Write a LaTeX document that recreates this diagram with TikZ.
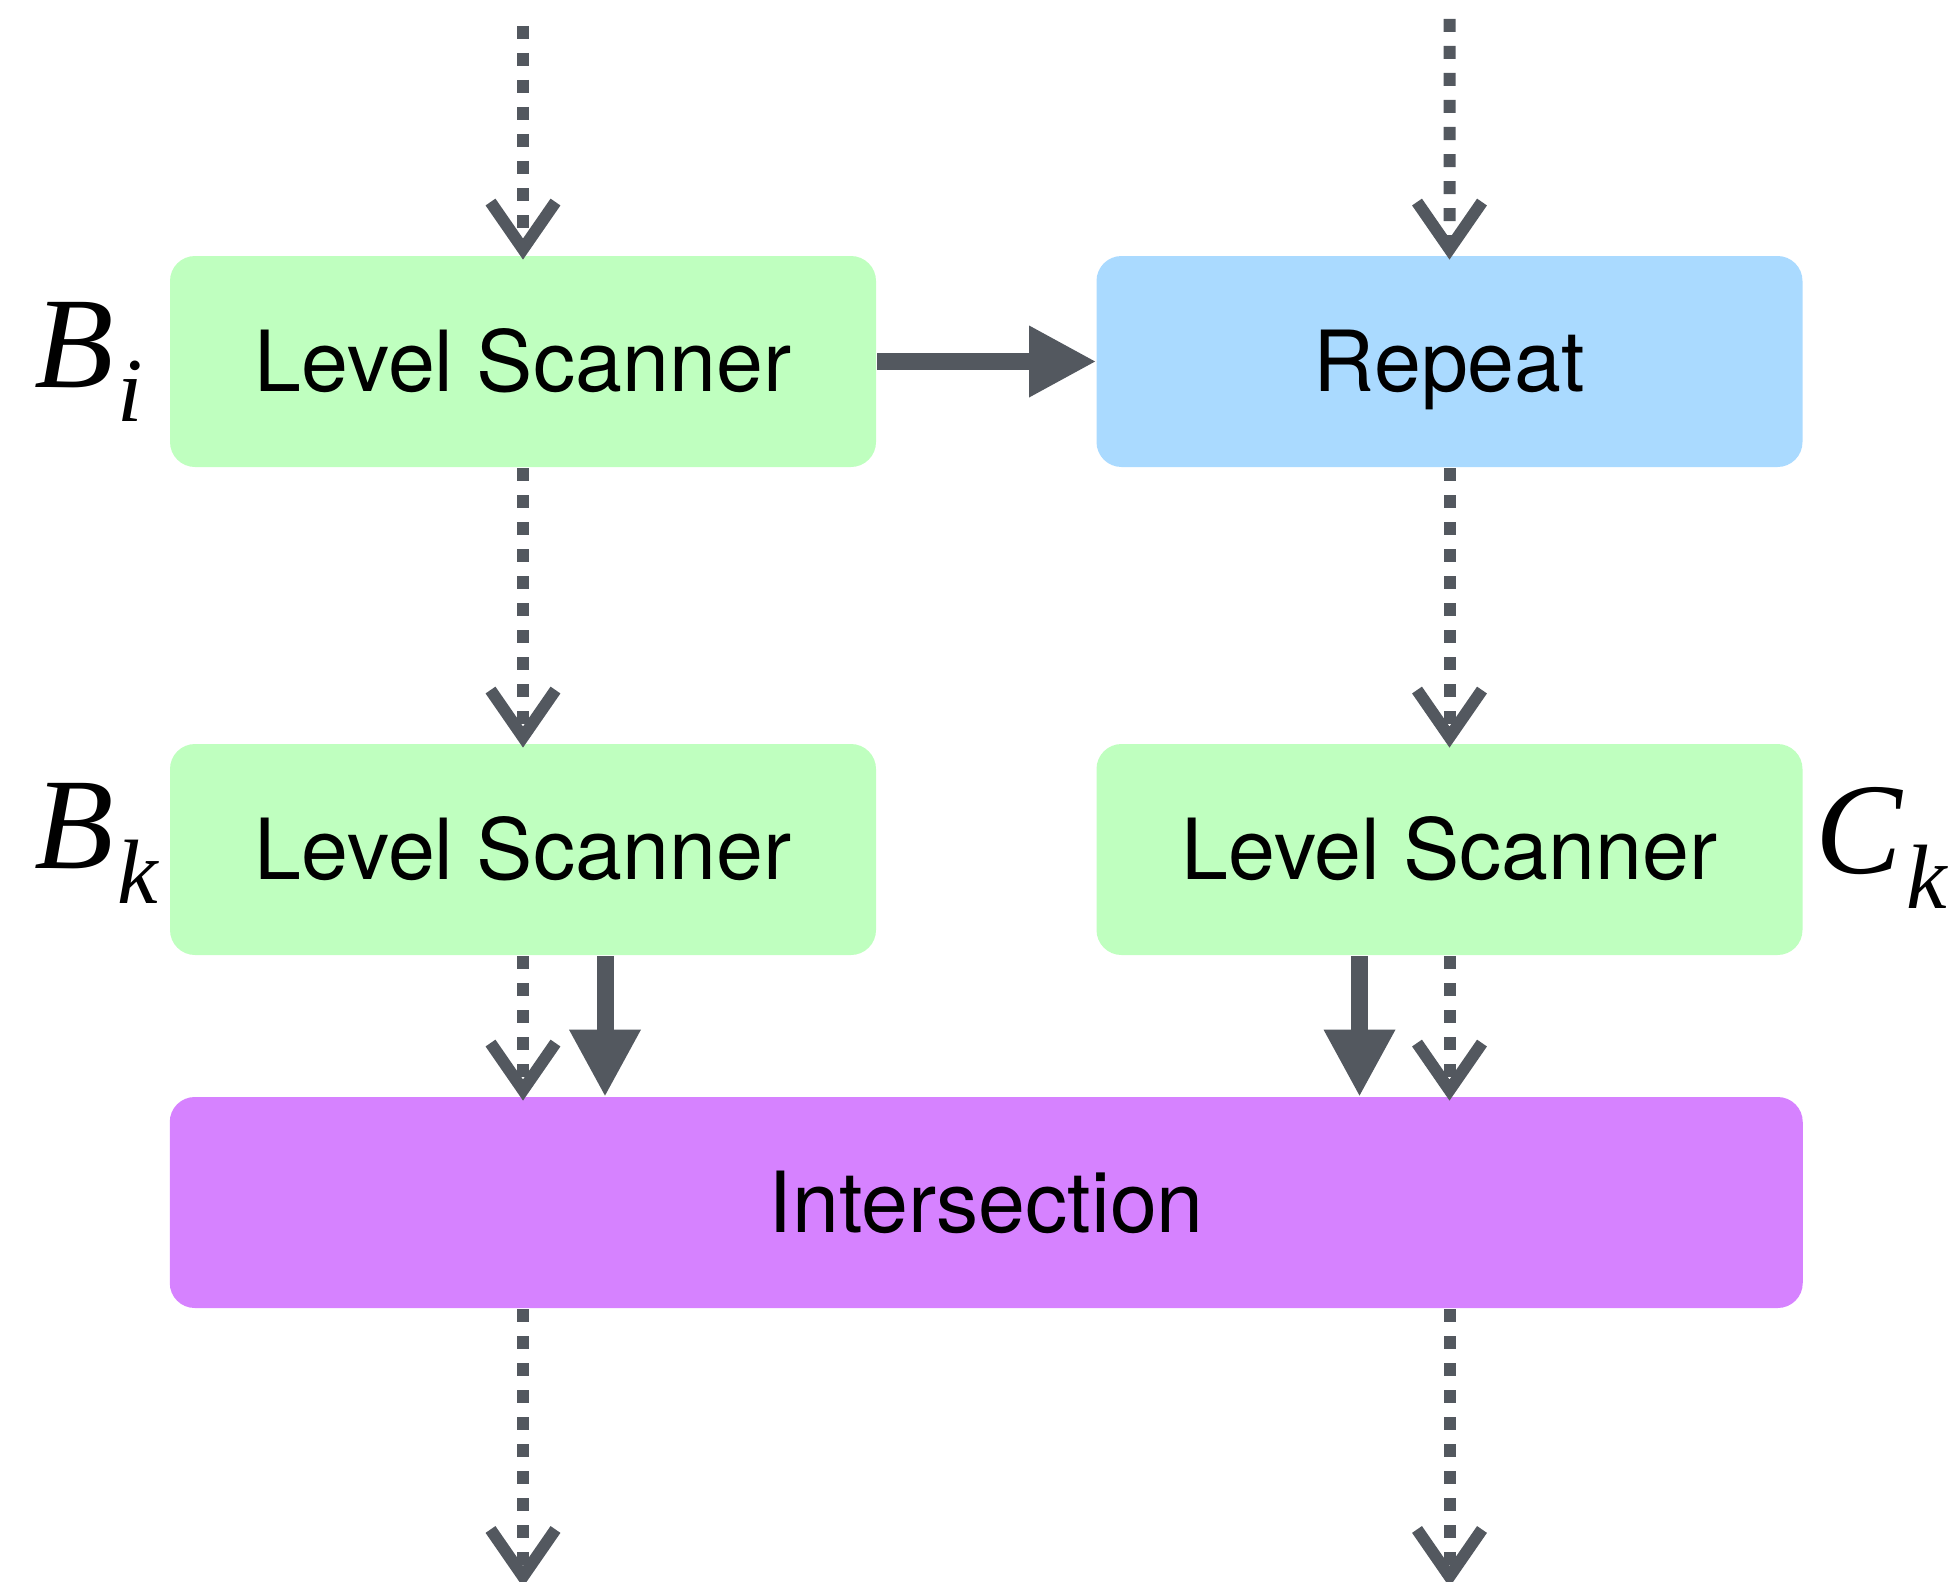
\documentclass[tikz,border=0pt]{standalone}
\usepackage{amsmath, amssymb}
\usepackage{xcolor}
\usepackage{fontspec}
\setmainfont{TeX Gyre Heros}
\newfontfamily\lblfont{Liberation Serif}
\usepackage{tikz}
\usetikzlibrary{arrows.meta}

\definecolor{scangreen}{HTML}{BFFFBF}
\definecolor{repblue}{HTML}{AADAFF}
\definecolor{interpurple}{HTML}{D682FF}
\definecolor{arrowgray}{HTML}{53585F}

% letter with a lowered subscript
\newcommand{\lblsub}[2]{#1\kern0.03em\raisebox{-0.35cm}{\fontsize{26}{26}\selectfont #2}}

\begin{document}
\begin{tikzpicture}[auto, node distance=9.265cm, thick,
    B node/.style={rectangle, rounded corners=0.25cm, minimum width=7.06cm, minimum height=2.11cm, inner sep=0pt, font=\fontsize{24}{24}\selectfont, text height=17pt, text depth=0pt},
    L node/.style={inner sep=0pt, font=\lblfont\itshape\fontsize{37}{37}\selectfont},
    dot arrow/.style={draw=arrowgray, line width=0.12cm, dash pattern=on 0.13cm off 0.14cm, shorten >=-0.05cm, -{Straight Barb[length=0.47cm, width=0.65cm]}},
    full arrow/.style={draw=arrowgray, line width=0.17cm, -{Triangle[length=0.66cm, width=0.72cm, line width=0pt]}}]
    \useasboundingbox (0,0) rectangle (19.57,-15.82);

    \node[B node, fill=scangreen] (LSi) at (5.23,-3.615) {Level Scanner};
    \node[B node, fill=repblue] (Rep) [right of=LSi] {Repeat};
    \node[B node, fill=scangreen, node distance=4.88cm] (LSk) [below of=LSi] {Level Scanner};
    \node[B node, fill=scangreen, node distance=4.88cm] (LSc) [below of=Rep] {Level Scanner};
    \node[B node, fill=interpurple, minimum width=16.33cm] (Inter) at (9.8625,-12.025) {Intersection};

    \node[L node, anchor=base west] (Bi) at (0.33,-3.87) {\lblsub{B}{i}};
    \node[L node, anchor=base west] (Bk) at (0.33,-8.68) {\lblsub{B}{k}};
    \node[L node, anchor=base west] (Ck) at (18.14,-8.73) {\lblsub{C}{k}};

    \coordinate (topi) at (5.23,-0.26);
    \coordinate (topr) at (14.495,-0.19);
    \coordinate (boti) at (5.23,-15.82);
    \coordinate (botr) at (14.495,-15.82);

    \path
    (topi) edge[dot arrow] (LSi)
    (topr) edge[dot arrow] (Rep)
    (LSi) edge[full arrow] (Rep)
    (LSi) edge[dot arrow] (LSk)
    (Rep) edge[dot arrow] (LSc)
    (LSk) edge[dot arrow] (LSk |- Inter.north)
    ([xshift=0.82cm]LSk.south) edge[full arrow] ([xshift=0.82cm]LSk.south |- Inter.north)
    ([xshift=-0.9cm]LSc.south) edge[full arrow] ([xshift=-0.9cm]LSc.south |- Inter.north)
    (LSc) edge[dot arrow] (LSc |- Inter.north)
    (Inter.south -| boti) edge[dot arrow] (boti)
    (Inter.south -| botr) edge[dot arrow] (botr)
    ;
\end{tikzpicture}
\end{document}
